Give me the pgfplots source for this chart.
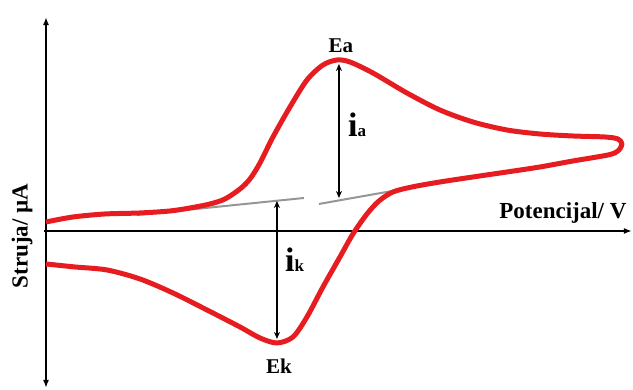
\documentclass[border=0pt]{standalone}
\usepackage{pgfplots}
\pgfplotsset{compat=1.18}
\usepackage{fontspec}
\setmainfont{Liberation Serif}
\usetikzlibrary{arrows.meta}
\definecolor{cvred}{RGB}{230,28,32}
\definecolor{basegray}{RGB}{150,150,150}
\begin{document}
\begin{tikzpicture}
\begin{axis}[
  width=633pt, height=389pt, scale only axis,
  xmin=0, xmax=633, ymin=0, ymax=389, y dir=reverse,
  hide axis, clip=false,
]
\path (axis cs:0,0) rectangle (axis cs:633,389);
% axes
\draw[line width=2.2pt, {Latex[length=8pt,width=6pt]}-{Latex[length=8pt,width=6pt]}] (axis cs:46,388) -- (axis cs:46,17);
\draw[line width=2.2pt, -{Latex[length=8pt,width=6pt]}] (axis cs:44,231) -- (axis cs:632,231);
% baselines
\addplot[basegray, line width=2pt] coordinates {(137,215) (304,198)};
\addplot[basegray, line width=2pt] coordinates {(319,204) (488,174)};
% CV curve
\addplot[cvred, line width=5pt, smooth, tension=0.5, line join=round] coordinates {
(46,222) (73,217) (105,214) (140,213) (170,211) (190,208) (210,204) (225,199)
(240,189) (250,179) (260,163) (273,137) (290,107) (307,80) (323,65)
(337,60) (350,62) (373,73) (407,93) (440,110) (473,122)
(507,130) (540,134) (573,136) (605,137) (618,139) (622,144) (618,151) (608,155)
(573,161) (540,167) (507,172) (473,177) (440,182) (412,187)
(393,192) (379,201) (367,214) (353,234) (340,257) (323,287)
(307,317) (293,337) (277,343) (260,338) (240,327)
(207,310) (173,293) (140,279) (107,270) (75,267) (46,264)
};
% peak arrows
\draw[line width=1.6pt, {Stealth[length=7pt,width=6pt]}-{Stealth[length=7pt,width=6pt]}] (axis cs:339,64) -- (axis cs:339,198);
\draw[line width=1.6pt, {Stealth[length=7pt,width=6pt]}-{Stealth[length=7pt,width=6pt]}] (axis cs:277,201) -- (axis cs:277,339);
% labels
\node[font=\bfseries\fontsize{21}{21}\selectfont] at (axis cs:341,46) {Ea};
\node[font=\bfseries\fontsize{21}{21}\selectfont] at (axis cs:279,366) {Ek};
\node[font=\bfseries\fontsize{23}{23}\selectfont] at (axis cs:563,213) {Potencijal/ V};
\node[font=\bfseries\fontsize{23}{23}\selectfont, rotate=90] at (axis cs:22,236) {Struja/ µA};
\node[anchor=base west, inner sep=0pt] at (axis cs:348,137) {\bfseries\fontsize{34}{34}\selectfont i\fontsize{17}{17}\selectfont a};
\node[anchor=base west, inner sep=0pt] at (axis cs:285,272) {\bfseries\fontsize{34}{34}\selectfont i\fontsize{17}{17}\selectfont k};
\end{axis}
\end{tikzpicture}
\end{document}
